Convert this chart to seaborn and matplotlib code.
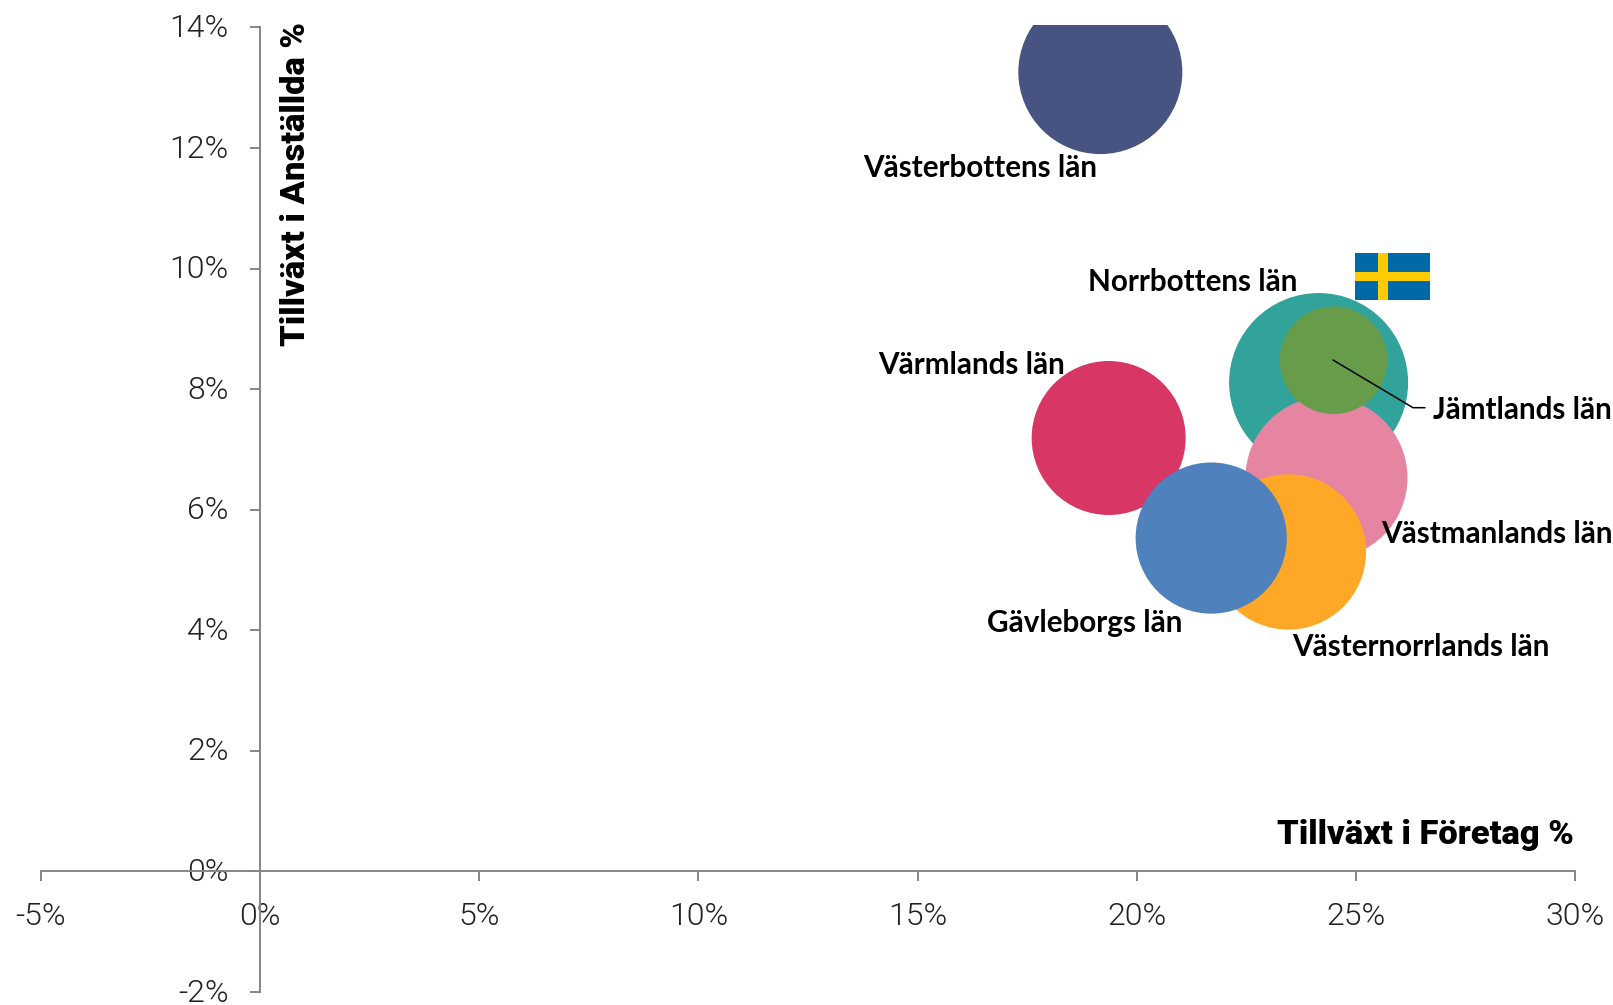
import pandas as pd
import matplotlib
matplotlib.use("Agg")
import matplotlib.pyplot as plt
from matplotlib.patches import Rectangle
from matplotlib.ticker import FuncFormatter
from matplotlib.transforms import ScaledTranslation
import seaborn as sns

# Values
lan = ["Västerbottens län", "Värmlands län", "Norrbottens län", "Västmanlands län",
       "Västernorrlands län", "Gävleborgs län", "Jämtlands län"]
foretag = [19.17, 19.36, 24.15, 24.33, 23.46, 21.70, 24.49]
anstallda = [13.26, 7.19, 8.11, 6.53, 5.30, 5.53, 8.48]
bubble_area = [6724, 5929, 8010, 6561, 6037, 5715, 2890]
colors = ["#475482", "#D83665", "#32A39B", "#E585A2", "#FFA726", "#4F81BC", "#669C4A"]

x_ticks = [-5, 0, 5, 10, 15, 20, 25, 30]
y_ticks = [-2, 0, 2, 4, 6, 8, 10, 12, 14]

# label anchor in figure pixels (left edge, vertical centre)
label_pos = {
    "Västerbottens län": (863, 168),
    "Norrbottens län": (1088, 282),
    "Värmlands län": (878, 365),
    "Jämtlands län": (1433, 410),
    "Västmanlands län": (1381, 534),
    "Gävleborgs län": (987, 623),
    "Västernorrlands län": (1292, 647),
}

W, H = 1613, 1005
GREY = "#868686"


def fx(px):
    return px / W


def fy(py):
    return 1 - py / H


df = pd.DataFrame({"lan": lan, "foretag": foretag, "anstallda": anstallda, "area": bubble_area})

sns.set_theme(style="white")
plt.rcParams["font.family"] = ["Lato", "DejaVu Sans"]

fig = plt.figure(figsize=(W / 100, H / 100), dpi=100, facecolor="white")
ax = fig.add_axes([fx(41), fy(992), fx(1575) - fx(41), fy(24.7) - fy(992)])

sns.scatterplot(data=df, x="foretag", y="anstallda", hue="lan", palette=dict(zip(lan, colors)),
                size="area", sizes=(0, 20736), size_norm=(0, 10000),
                linewidth=0, alpha=1, legend=False, ax=ax, zorder=3)

ax.set_xlim(-5, 30)
ax.set_ylim(-2, 14.046)
ax.set_xlabel("")
ax.set_ylabel("")

for side in ["top", "right"]:
    ax.spines[side].set_visible(False)
for side in ["left", "bottom"]:
    ax.spines[side].set_position(("data", 0))
    ax.spines[side].set_color(GREY)
    ax.spines[side].set_linewidth(1.4)
ax.spines["left"].set_bounds(-2, 14)

ax.set_xticks(x_ticks)
ax.set_yticks(y_ticks)
ax.xaxis.set_major_formatter(FuncFormatter(lambda v, _: f"{v:.0f}%"))
ax.yaxis.set_major_formatter(FuncFormatter(lambda v, _: f"{v:.0f}%"))
ax.tick_params(axis="x", direction="out", length=7.2, width=1.4, color=GREY, pad=14.5,
               labelsize=23, labelcolor="#222222", bottom=True)
ax.tick_params(axis="y", direction="out", length=7.2, width=1.4, color=GREY, pad=15.5,
               labelsize=23, labelcolor="#222222", left=True)
for t in ax.get_xticklabels() + ax.get_yticklabels():
    t.set_fontfamily("Roboto")
    t.set_fontweight(300)
# y labels sit a little above their ticks in the reference
up = ScaledTranslation(0, 2 / 100, fig.dpi_scale_trans)
for t in ax.get_yticklabels():
    t.set_transform(t.get_transform() + up)

for name, (px, py) in label_pos.items():
    fig.text(fx(px), fy(py), name, fontsize=21.3, fontweight="bold", color="black",
             ha="left", va="center", zorder=6)

# leader line for Jämtland
fig.add_artist(plt.Line2D([fx(1333), fx(1413), fx(1425)], [fy(360), fy(407.7), fy(407.7)],
                          color="black", lw=1.1, zorder=5))

# axis titles
fig.text(fx(1574), fy(835), "Tillväxt i Företag %", fontsize=24.8, fontweight=900, family="Roboto",
         ha="right", va="center", color="black")
fig.text(fx(296), fy(184), "Tillväxt i Anställda %", fontsize=24.8, fontweight=900, family="Roboto",
         rotation=90, ha="center", va="center", color="black")

# Swedish flag
fig.add_artist(Rectangle((fx(1355), fy(300)), 75 / W, 47 / H, transform=fig.transFigure,
                         facecolor="#006AA7", edgecolor="none"))
fig.add_artist(Rectangle((fx(1378.3), fy(300)), 9.4 / W, 47 / H, transform=fig.transFigure,
                         facecolor="#FECC00", edgecolor="none"))
fig.add_artist(Rectangle((fx(1355), fy(281)), 75 / W, 9.4 / H, transform=fig.transFigure,
                         facecolor="#FECC00", edgecolor="none"))

fig.savefig("out.png", dpi=100, facecolor="white")
